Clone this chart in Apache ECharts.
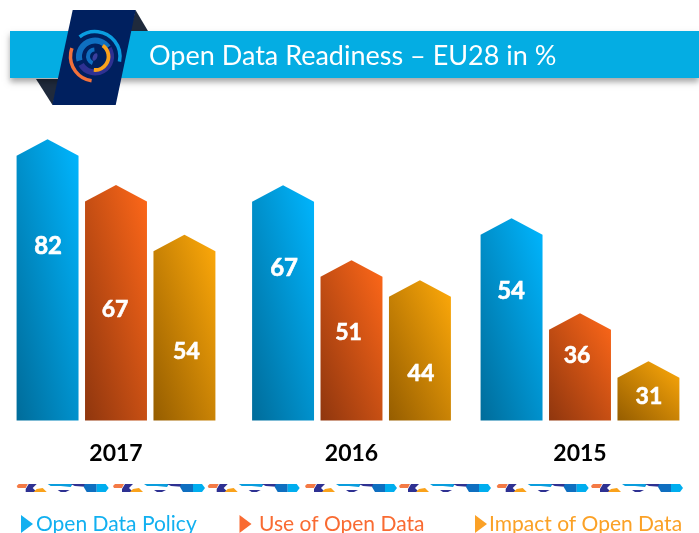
<!DOCTYPE html>
<html>
<head>
<meta charset="utf-8">
<style>html,body{margin:0;padding:0;background:#fff}#c{width:699px;height:533px}</style>
<script src="https://cdn.jsdelivr.net/npm/echarts@6/dist/echarts.min.js"></script>
</head>
<body>
<div id="c"></div>
<script>
const title = 'Open Data Readiness – EU28 in %';
const years = ['2017', '2016', '2015'];
const seriesNames = ['Open Data Policy', 'Use of Open Data', 'Impact of Open Data'];

// Printed values
const policyValues = [82, 67, 54];
const useValues = [67, 51, 36];
const impactValues = [54, 44, 31];

// The reference's bars are not proportional to their printed numbers:
// these are the heights as actually drawn, read against the 2017 / 82 bar.
const policyHeights = [82, 68.6, 59];
const useHeights = [68.7, 46.7, 31.3];
const impactHeights = [54.2, 40.9, 17.3];

// Where each printed number sits on the same scale
const policyLabelAt = [50.9, 44.5, 37.7];
const useLabelAt = [32.2, 25.5, 18.8];
const impactLabelAt = [20, 13.6, 7.1];

const gradients = [
  ['#006c9a', '#00b6ff'],
  ['#8f360e', '#ff6819'],
  ['#955d00', '#ffaa0a']
];
const legendColors = ['#12b0f0', '#f96b32', '#fba126'];

const chart = echarts.init(document.getElementById('c'), null, {renderer: 'canvas'});
const groupNudge = [0, 3.5, 0];
const labelNudge = [[0.5, 1, -0.5], [-1, -3, -3], [2, 1, 0.5]];
const SHOULDER = 16.5;

function barSeries(k, values, heights, labelAt) {
  return {
    type: 'custom',
    name: seriesNames[k],
    clip: false,
    silent: true,
    encode: {x: 0, y: 2},
    data: years.map((y, i) => [y, values[i], heights[i], labelAt[i]]),
    renderItem(params, api) {
      const i = api.value(0);
      const band = api.size([1, 0])[0];
      const w = band * 0.267;
      const base = api.coord([i, 0]);
      const cx = base[0] + groupNudge[i] + (k - 1) * band * 0.295;
      const tip = api.coord([i, api.value(2)])[1];
      const ly = api.coord([i, api.value(3)])[1];
      // Corner-to-corner shading: the colour bands run along the
      // top-left / bottom-right diagonal of each bar.
      const h = base[1] - tip;
      const len = Math.hypot(w, h);
      const nx = h / len, ny = -w / len, half = w * h / len;
      const my = (base[1] + tip) / 2;
      return {
        type: 'group',
        children: [{
          type: 'polygon',
          shape: {points: [
            [cx - w / 2, base[1]], [cx - w / 2, tip + SHOULDER], [cx, tip],
            [cx + w / 2, tip + SHOULDER], [cx + w / 2, base[1]]
          ]},
          style: {fill: new echarts.graphic.LinearGradient(
            cx - nx * half, my - ny * half, cx + nx * half, my + ny * half, [
            {offset: 0, color: gradients[k][0]},
            {offset: 1, color: gradients[k][1]}
          ], true)}
        }, {
          type: 'text',
          style: {
            x: cx + labelNudge[k][i], y: ly, text: String(api.value(1)),
            fill: '#fff', stroke: '#fff', lineWidth: 0.6,
            align: 'center', verticalAlign: 'middle',
            font: 'bold ' + (k === 0 ? 24 : 23) + 'px Lato'
          }
        }]
      };
    }
  };
}

const rad = d => d * Math.PI / 180;
function arc(r, a, b, color, lw) {
  return {type: 'arc', z: 13, silent: true,
    shape: {cx: 95, cy: 56.5, r, startAngle: rad(a), endAngle: rad(b), clockwise: true},
    style: {stroke: color, lineWidth: lw, fill: null}};
}
function poly(points, color, z, extra) {
  return {type: 'polygon', z, silent: true, shape: {points},
    style: Object.assign({fill: color}, extra || {})};
}
function txt(x, y, text, color, font, z) {
  return {type: 'text', z: z || 12, silent: true, x, y,
    style: {text, fill: color, font, align: 'left', verticalAlign: 'middle'}};
}

const ribbonStarts = [16.7, 113, 207.7, 305, 399, 496.7, 591];
const ribbonParts = [
  [[[0,2],[2,0],[11,0],[9,4],[1,4]], '#f47a45'],
  [[[9,5],[12,0],[20,0],[16,4],[20,8],[9,8]], '#2e3192'],
  [[[17,8],[20,5],[26,4],[30,8]], '#faa21b'],
  [[[31,0],[56,0],[54,3],[44,2],[34,2]], '#0a9ddd'],
  [[[41,6],[53,6],[49,8],[44,8]], '#2e3192'],
  [[[54,0],[72,0],[72,3],[58,2]], '#2e3192'],
  [[[68,0],[80,0],[80,8],[70,8],[67,3]], '#0f6fc0'],
  [[[80,0],[89,0],[92,4],[89,8],[80,8]], '#00aeef']
];
const ribbon = [];
ribbonStarts.forEach(s => ribbonParts.forEach(p =>
  ribbon.push(poly(p[0].map(q => [s + q[0], 484 + q[1]]), p[1], 5))));

const legendItems = [
  {tri: 21, text: 36},
  {tri: 239.5, text: 259},
  {tri: 475, text: 489}
];
const legendG = [];
legendItems.forEach((it, k) => {
  legendG.push(poly([[it.tri, 515], [it.tri + 12, 524], [it.tri, 533]], legendColors[k], 6));
  legendG.push(txt(it.text, 524, seriesNames[k], legendColors[k], '21px Lato', 6));
});

const yearStyle = {fontFamily: 'Lato', fontWeight: 'bold', fontSize: 23, color: '#000'};
chart.setOption({
  animation: false,
  backgroundColor: '#fff',
  grid: {left: 0, width: 696, top: 129, height: 291.5},
  xAxis: {
    type: 'category',
    data: years,
    axisLine: {show: false},
    axisTick: {show: false},
    axisLabel: {
      margin: 22,
      formatter: (v, i) => i === 1 ? '{n|' + v + '}' : '{a|' + v + '}',
      rich: {
        a: yearStyle,
        n: Object.assign({}, yearStyle, {padding: [0, 0, 0, 7]})
      }
    }
  },
  yAxis: {type: 'value', min: 0, max: 85, show: false},
  series: [
    barSeries(0, policyValues, policyHeights, policyLabelAt),
    barSeries(1, useValues, useHeights, useLabelAt),
    barSeries(2, impactValues, impactHeights, impactLabelAt)
  ],
  graphic: {elements: [
    poly([[135.5,10],[148,31],[130,31]], '#1f2a3c', 9),
    poly([[36,79],[52.5,105],[60,79]], '#1f2a3c', 9),
    {type: 'rect', z: 10, silent: true, shape: {x: 10, y: 31, width: 689, height: 47},
      style: {fill: '#04ade3', shadowBlur: 6, shadowOffsetY: 4, shadowOffsetX: 0, shadowColor: 'rgba(0,0,0,0.35)'}},
    poly([[72.7,10],[135.7,10],[115.7,105],[52.3,105]], '#00205f', 11),
    arc(25, -128, 12, '#0a9de0', 3.5),
    arc(24.5, 98, 200, '#f2713a', 3.5),
    arc(16, 165, 325, '#0f6fc0', 6),
    arc(16, -30, 150, '#2e3192', 6),
    arc(13.5, -55, 95, '#faa21b', 3.8),
    arc(7, 110, 265, '#0f6fc0', 4),
    {type: 'ellipse', z: 13, silent: true, shape: {cx: 95, cy: 57, rx: 2.2, ry: 4},
      rotation: -0.4, originX: 95, originY: 57, style: {fill: '#3a3f9e'}},
    txt(149, 56, title, '#fff', '27px Lato', 12)
  ].concat(ribbon, legendG)}
});
</script>
</body>
</html>
